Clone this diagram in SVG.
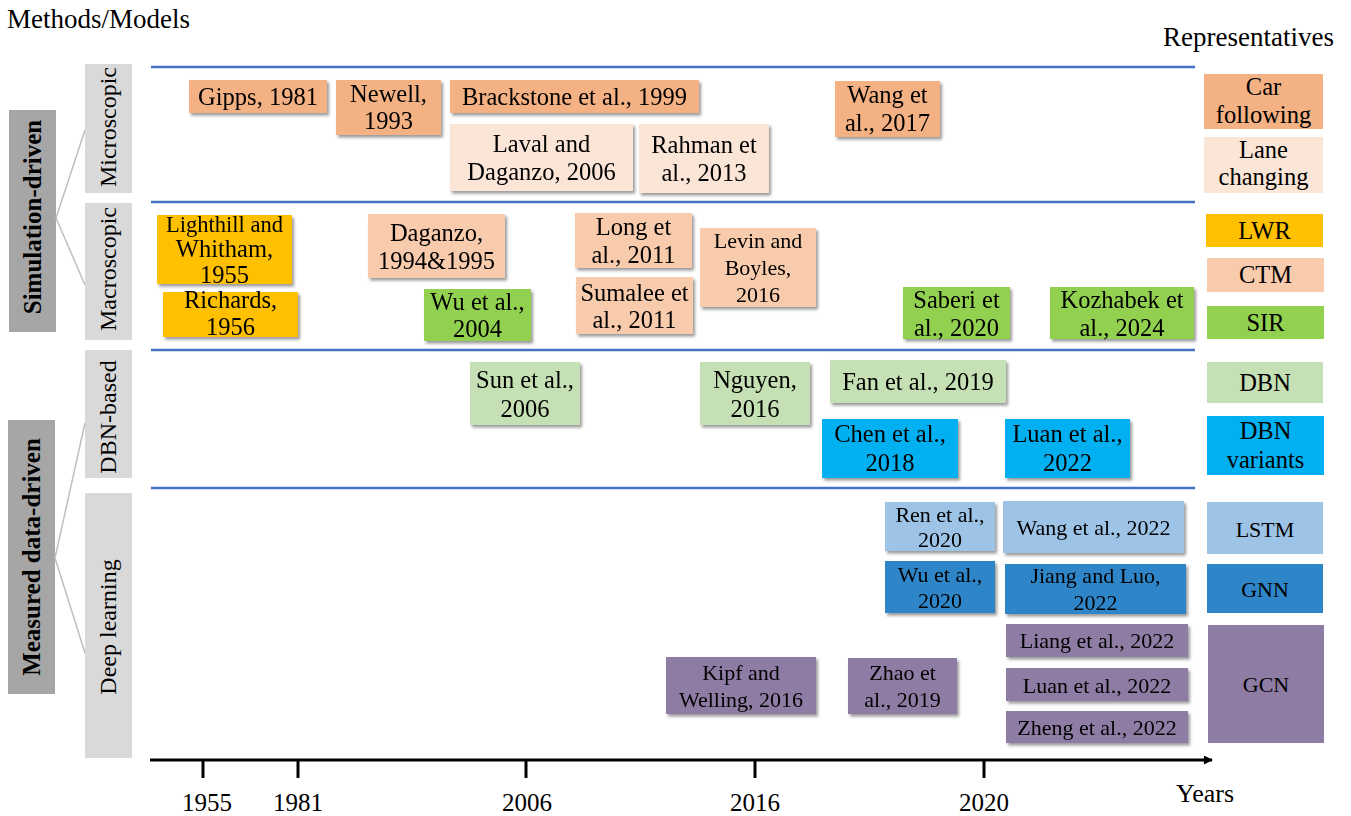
<svg xmlns="http://www.w3.org/2000/svg" width="1351" height="816" viewBox="0 0 1351 816">
<defs>
<filter id="sh" x="-10%" y="-10%" width="130%" height="140%">
<feDropShadow dx="2" dy="2.5" stdDeviation="1.5" flood-color="#000" flood-opacity="0.4"/>
</filter>
<marker id="arrB" viewBox="0 0 10 10" refX="9" refY="5" markerWidth="4" markerHeight="4" orient="auto" markerUnits="strokeWidth">
<path d="M0,0 L10,5 L0,10 z" fill="#4472C4"/>
</marker>
<marker id="arrK" viewBox="0 0 10 10" refX="9" refY="5" markerWidth="4" markerHeight="3" orient="auto" markerUnits="strokeWidth">
<path d="M0,0 L10,5 L0,10 z" fill="#000"/>
</marker>
</defs>
<style>
text{font-family:"Liberation Serif","Times New Roman",serif;fill:#000;}
.t{font-size:24.5px;text-anchor:middle;}
.s{font-size:22px;text-anchor:middle;}
.hd{font-size:27px;}
.yrs{font-size:26px;}
.yr{font-size:25px;text-anchor:middle;}
.cat{font-size:25px;font-weight:bold;text-anchor:middle;}
.sub{font-size:24px;text-anchor:middle;}
.n{filter:url(#sh);}
.co{fill:#F4B183;}
.cl{fill:#FBE5D6;}
.cg{fill:#FFC000;}
.cp{fill:#F8CBAD;}
.cs{fill:#92D050;}
.cd{fill:#C5E0B4;}
.cv{fill:#00B0F0;}
.cb{fill:#9DC3E6;}
.cn{fill:#2E86C8;}
.cu{fill:#8F7CA4;}
.grid{stroke:#4472C4;stroke-width:2.5;fill:none;}
.tick{stroke:#000;stroke-width:3;}
.conn{stroke:#BFBFBF;stroke-width:1.5;fill:none;}
</style>
<rect width="1351" height="816" fill="#fff"/>

<!-- axes and grid -->
<g id="axes">
<line class="grid" x1="151" y1="67" x2="1195" y2="67"/>
<line class="grid" x1="151" y1="202" x2="1195" y2="202"/>
<line class="grid" x1="151" y1="350" x2="1195" y2="350"/>
<line class="grid" x1="151" y1="488" x2="1195" y2="488"/>
<line x1="151" y1="761" x2="151" y2="28" stroke="#4472C4" stroke-width="3" marker-end="url(#arrB)" filter="url(#sh)"/>
<line x1="150" y1="760" x2="1212" y2="760" stroke="#000" stroke-width="3" marker-end="url(#arrK)"/>
<line class="tick" x1="203" y1="760" x2="203" y2="778"/>
<line class="tick" x1="298" y1="760" x2="298" y2="778"/>
<line class="tick" x1="526" y1="760" x2="526" y2="778"/>
<line class="tick" x1="755" y1="760" x2="755" y2="778"/>
<line class="tick" x1="984" y1="760" x2="984" y2="778"/>
<text class="yr" x="207" y="811">1955</text>
<text class="yr" x="298" y="811">1981</text>
<text class="yr" x="527" y="811">2006</text>
<text class="yr" x="755" y="811">2016</text>
<text class="yr" x="984" y="811">2020</text>
<text class="yrs" x="1176" y="802">Years</text>
<text class="hd" x="7" y="28">Methods/Models</text>
<text class="hd" x="1163" y="46">Representatives</text>
</g>

<!-- category labels -->
<g id="cat-sim"><rect x="9" y="110" width="47" height="222" fill="#A6A6A6"/><text class="cat" transform="translate(41,217) rotate(-90)">Simulation-driven</text></g>
<g id="cat-meas"><rect x="8" y="420" width="47" height="274" fill="#A6A6A6"/><text class="cat" transform="translate(40,557) rotate(-90)">Measured data-driven</text></g>
<g id="sub-micro"><rect x="85" y="64" width="47" height="129" fill="#D9D9D9"/><text class="sub" transform="translate(116,127) rotate(-90)">Microscopic</text></g>
<g id="sub-macro"><rect x="85" y="203" width="47" height="137" fill="#D9D9D9"/><text class="sub" transform="translate(116,269) rotate(-90)">Macroscopic</text></g>
<g id="sub-dbn"><rect x="85" y="350" width="47" height="128" fill="#D9D9D9"/><text class="sub" transform="translate(116,417) rotate(-90)">DBN-based</text></g>
<g id="sub-dl"><rect x="85" y="493" width="47" height="265" fill="#D9D9D9"/><text class="sub" transform="translate(116,627) rotate(-90)">Deep learning</text></g>

<!-- connectors -->
<g id="connectors">
<polyline class="conn" points="85,130 56,218 85,285"/>
<polyline class="conn" points="85,423 55,558 85,653"/>
</g>

<!-- microscopic -->
<g id="gipps" class="n"><rect class="co" x="189" y="80" width="138" height="33"/><text class="t" x="258" y="105">Gipps, 1981</text></g>
<g id="newell" class="n"><rect class="co" x="336" y="80" width="105" height="55"/><text class="t" x="388.5" y="102">Newell,</text><text class="t" x="388.5" y="129">1993</text></g>
<g id="brackstone" class="n"><rect class="co" x="450" y="80" width="249" height="33"/><text class="t" x="574.5" y="105">Brackstone et al., 1999</text></g>
<g id="wang2017" class="n"><rect class="co" x="835" y="81" width="105" height="56"/><text class="t" x="887.5" y="103">Wang et</text><text class="t" x="887.5" y="131">al., 2017</text></g>
<g id="laval" class="n"><rect class="cl" x="450" y="124" width="183" height="67"/><text class="t" x="541.5" y="152">Laval and</text><text class="t" x="541.5" y="180">Daganzo, 2006</text></g>
<g id="rahman" class="n"><rect class="cl" x="639" y="124" width="130" height="69"/><text class="t" x="704" y="153">Rahman et</text><text class="t" x="704" y="181">al., 2013</text></g>

<!-- macroscopic -->
<g id="lighthill" class="n"><rect class="cg" x="157" y="215" width="135" height="69"/><text class="t" x="224.5" y="232" style="font-size:22.5px">Lighthill and</text><text class="t" x="224.5" y="257">Whitham,</text><text class="t" x="224.5" y="283">1955</text></g>
<g id="richards" class="n"><rect class="cg" x="163" y="292" width="135" height="45"/><text class="t" x="230.5" y="308">Richards,</text><text class="t" x="230.5" y="335">1956</text></g>
<g id="daganzo" class="n"><rect class="cp" x="368" y="214" width="137" height="64"/><text class="t" x="436.5" y="241">Daganzo,</text><text class="t" x="436.5" y="269">1994&amp;1995</text></g>
<g id="wu2004" class="n"><rect class="cs" x="424" y="289" width="107" height="52"/><text class="t" x="477.5" y="310">Wu et al.,</text><text class="t" x="477.5" y="337">2004</text></g>
<g id="long" class="n"><rect class="cp" x="575" y="213" width="117" height="55"/><text class="t" x="633.5" y="235">Long et</text><text class="t" x="633.5" y="263">al., 2011</text></g>
<g id="sumalee" class="n"><rect class="cp" x="576" y="277" width="117" height="57"/><text class="t" x="634.5" y="301">Sumalee et</text><text class="t" x="634.5" y="328">al., 2011</text></g>
<g id="levin" class="n"><rect class="cp" x="700" y="228" width="116" height="79"/><text class="t" x="758" y="248" style="font-size:22px">Levin and</text><text class="t" x="758" y="275" style="font-size:22px">Boyles,</text><text class="t" x="758" y="302" style="font-size:22px">2016</text></g>
<g id="saberi" class="n"><rect class="cs" x="903" y="287" width="107" height="52"/><text class="t" x="956.5" y="308">Saberi et</text><text class="t" x="956.5" y="336">al., 2020</text></g>
<g id="kozhabek" class="n"><rect class="cs" x="1050" y="287" width="144" height="52"/><text class="t" x="1122" y="308">Kozhabek et</text><text class="t" x="1122" y="336">al., 2024</text></g>

<!-- DBN-based -->
<g id="sun" class="n"><rect class="cd" x="470" y="362" width="110" height="63"/><text class="t" x="525" y="388">Sun et al.,</text><text class="t" x="525" y="417">2006</text></g>
<g id="nguyen" class="n"><rect class="cd" x="700" y="362" width="110" height="63"/><text class="t" x="755" y="388">Nguyen,</text><text class="t" x="755" y="417">2016</text></g>
<g id="fan" class="n"><rect class="cd" x="830" y="360" width="176" height="43"/><text class="t" x="918" y="390">Fan et al., 2019</text></g>
<g id="chen" class="n"><rect class="cv" x="822" y="419" width="136" height="59"/><text class="t" x="890" y="442">Chen et al.,</text><text class="t" x="890" y="471">2018</text></g>
<g id="luan2022dbn" class="n"><rect class="cv" x="1005" y="419" width="125" height="59"/><text class="t" x="1067.5" y="442">Luan et al.,</text><text class="t" x="1067.5" y="471">2022</text></g>

<!-- deep learning -->
<g id="ren" class="n"><rect class="cb" x="885" y="502" width="110" height="49"/><text class="s" x="940" y="522">Ren et al.,</text><text class="s" x="940" y="547">2020</text></g>
<g id="wang2022" class="n"><rect class="cb" x="1003" y="501" width="181" height="52"/><text class="s" x="1093.5" y="535">Wang et al., 2022</text></g>
<g id="wu2020" class="n"><rect class="cn" x="885" y="561" width="110" height="52"/><text class="s" x="940" y="582">Wu et al.,</text><text class="s" x="940" y="608">2020</text></g>
<g id="jiang" class="n"><rect class="cn" x="1005" y="564" width="181" height="50"/><text class="s" x="1095.5" y="583">Jiang and Luo,</text><text class="s" x="1095.5" y="610">2022</text></g>
<g id="liang" class="n"><rect class="cu" x="1006" y="624" width="182" height="33"/><text class="s" x="1097" y="648">Liang et al., 2022</text></g>
<g id="luan2022gcn" class="n"><rect class="cu" x="1006" y="668" width="182" height="33"/><text class="s" x="1097" y="693">Luan et al., 2022</text></g>
<g id="zheng" class="n"><rect class="cu" x="1006" y="711" width="182" height="32"/><text class="s" x="1097" y="735">Zheng et al., 2022</text></g>
<g id="kipf" class="n"><rect class="cu" x="666" y="657" width="150" height="57"/><text class="s" x="741" y="680">Kipf and</text><text class="s" x="741" y="707">Welling, 2016</text></g>
<g id="zhao" class="n"><rect class="cu" x="848" y="658" width="109" height="56"/><text class="s" x="902.5" y="680">Zhao et</text><text class="s" x="902.5" y="707">al., 2019</text></g>

<!-- representatives -->
<g id="rep-car"><rect class="co" x="1204" y="74" width="119" height="55"/><text class="t" x="1263.5" y="95">Car</text><text class="t" x="1263.5" y="123">following</text></g>
<g id="rep-lane"><rect class="cl" x="1204" y="137" width="119" height="56"/><text class="t" x="1263.5" y="158">Lane</text><text class="t" x="1263.5" y="185">changing</text></g>
<g id="rep-lwr"><rect class="cg" x="1206" y="214" width="117" height="33"/><text class="t" x="1264.5" y="239">LWR</text></g>
<g id="rep-ctm"><rect class="cp" x="1207" y="258" width="117" height="34"/><text class="t" x="1265.5" y="283">CTM</text></g>
<g id="rep-sir"><rect class="cs" x="1207" y="306" width="117" height="33"/><text class="t" x="1265.5" y="331">SIR</text></g>
<g id="rep-dbn"><rect class="cd" x="1207" y="362" width="116" height="41"/><text class="t" x="1265" y="391">DBN</text></g>
<g id="rep-dbnv"><rect class="cv" x="1207" y="416" width="117" height="59"/><text class="t" x="1265.5" y="439">DBN</text><text class="t" x="1265.5" y="468">variants</text></g>
<g id="rep-lstm"><rect class="cb" x="1207" y="502" width="116" height="52"/><text class="s" x="1265" y="537">LSTM</text></g>
<g id="rep-gnn"><rect class="cn" x="1207" y="564" width="116" height="49"/><text class="s" x="1265" y="597">GNN</text></g>
<g id="rep-gcn"><rect class="cu" x="1208" y="625" width="116" height="118"/><text class="s" x="1266" y="692">GCN</text></g>
</svg>
